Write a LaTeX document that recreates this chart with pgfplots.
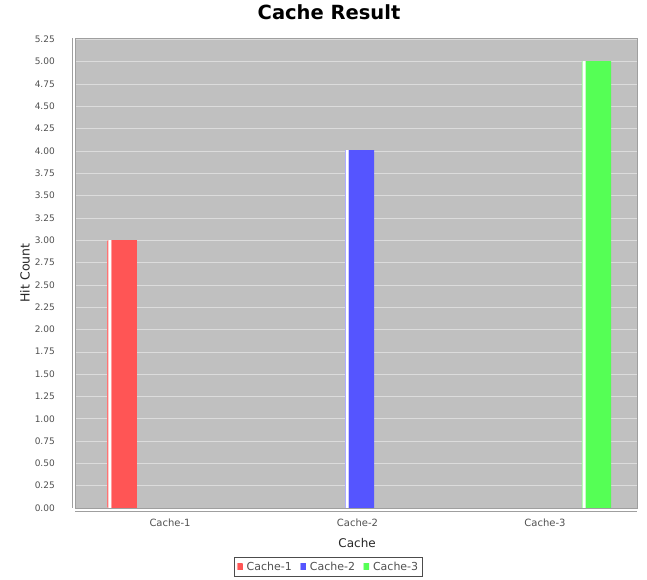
\documentclass[border=0pt]{standalone}
\usepackage{pgfplots}
\pgfplotsset{compat=1.18}
\usepackage{fontspec}
\setmainfont{DejaVu Sans}
\newfontfamily\dv{DejaVu Sans}
\definecolor{barR}{RGB}{255,85,85}
\definecolor{barB}{RGB}{85,85,255}
\definecolor{barG}{RGB}{85,255,85}
\definecolor{plotbg}{RGB}{192,192,192}
\definecolor{ticktext}{RGB}{80,80,80}
\pgfdeclarehorizontalshading{shR}{100bp}{color(0bp)=(barR!45!white); color(25bp)=(barR!45!white); color(26.5bp)=(white); color(29.5bp)=(white); color(31.5bp)=(barR); color(100bp)=(barR)}
\pgfdeclarehorizontalshading{shB}{100bp}{color(0bp)=(barB!45!white); color(25bp)=(barB!45!white); color(26.5bp)=(white); color(29.5bp)=(white); color(31.5bp)=(barB); color(100bp)=(barB)}
\pgfdeclarehorizontalshading{shG}{100bp}{color(0bp)=(barG!45!white); color(25bp)=(barG!45!white); color(26.5bp)=(white); color(29.5bp)=(white); color(31.5bp)=(barG); color(100bp)=(barG)}
\begin{document}
\begin{tikzpicture}
\useasboundingbox (0,0) rectangle (647bp,580bp);
\begin{axis}[
  at={(75bp,72bp)}, anchor=south west,
  scale only axis, width=562bp, height=470bp,
  xmin=-0.507, xmax=2.491,
  ymin=0, ymax=5.265,
  ytick={0,0.25,...,5.25},
  xtick={0,1,2},
  xticklabels={Cache-1,Cache-2,Cache-3},
  major tick length=0pt,
  /pgf/number format/assume math mode=true,
  yticklabel style={/pgf/number format/fixed,/pgf/number format/fixed zerofill,/pgf/number format/precision=2,
    font=\dv\fontsize{9bp}{10bp}\selectfont, text=ticktext, anchor=east, inner sep=0pt, xshift=-20bp},
  xticklabel style={font=\dv\fontsize{10bp}{11bp}\selectfont, text=ticktext, anchor=center, inner sep=0pt, yshift=-15bp},
  axis background/.style={fill=plotbg},
  axis line style={draw=gray!75},
  ymajorgrids,
  grid style={white, line width=0.5pt, opacity=0.45},
  xlabel={Cache},
  ylabel={Hit Count},
  every axis x label/.style={at={(axis description cs:0.502,0)}, anchor=center, yshift=-35bp, font=\dv\fontsize{12bp}{14bp}\selectfont, text=black!85},
  every axis y label/.style={at={(axis description cs:-0.089,0.5)}, rotate=90, anchor=center, font=\dv\fontsize{12.5bp}{14bp}\selectfont, text=black!85},
  title={Cache Result},
  title style={at={(axis description cs:0.452,1)}, anchor=center, yshift=20bp, font=\dv\bfseries\fontsize{19.5bp}{22bp}\selectfont},
  legend style={at={(axis description cs:0.451,-0.1255)}, anchor=center, legend columns=3,
    draw=black!70, line width=0.6pt, fill=white, inner xsep=2bp, inner ysep=2.5bp,
    font=\dv\fontsize{11bp}{12bp}\selectfont, text=ticktext,
    /tikz/every even column/.append style={column sep=6bp}},
  bar width=0.155,
  after end axis/.code={
    \draw[gray!75, line width=0.6pt] ([xshift=-3bp]rel axis cs:0,0) -- ([xshift=-3bp]rel axis cs:0,1);
    \draw[gray!75, line width=0.6pt] ([yshift=-3bp]rel axis cs:0,0) -- ([yshift=-3bp]rel axis cs:1,0);
  },
]
\addplot[ybar, bar shift=-0.255, draw=none, shade, shading=shR,
  legend image code/.code={\fill[barR] (1bp,-3bp) rectangle (7bp,3bp); \path (9bp,0);}]
  coordinates {(0,3)};
\addlegendentry{Cache-1}
\addplot[ybar, bar shift=0.011, draw=none, shade, shading=shB,
  legend image code/.code={\fill[barB] (1bp,-3bp) rectangle (7bp,3bp); \path (9bp,0);}]
  coordinates {(1,4)};
\addlegendentry{Cache-2}
\addplot[ybar, bar shift=0.275, draw=none, shade, shading=shG,
  legend image code/.code={\fill[barG] (1bp,-3bp) rectangle (7bp,3bp); \path (9bp,0);}]
  coordinates {(2,5)};
\addlegendentry{Cache-3}
\end{axis}
\end{tikzpicture}
\end{document}
